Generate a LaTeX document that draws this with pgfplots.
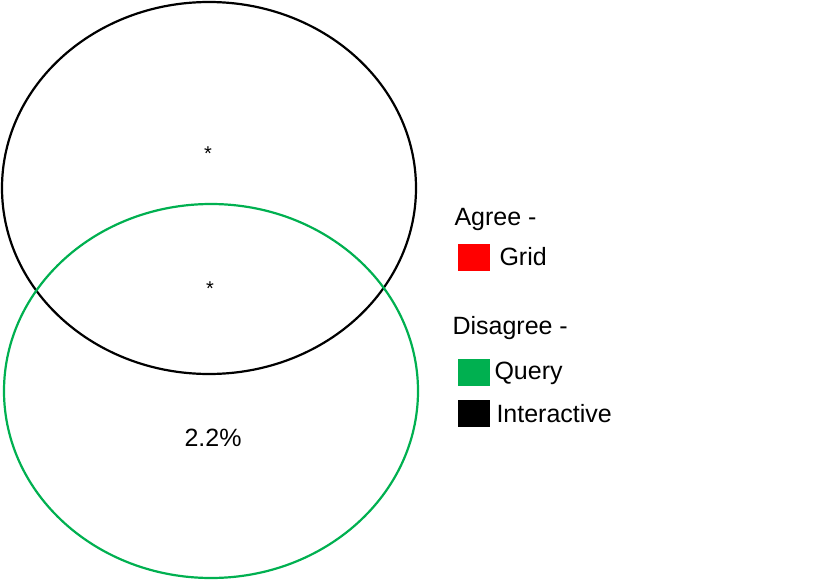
\documentclass[border=0pt]{standalone}
\usepackage{pgfplots}
\pgfplotsset{compat=1.18}
\usepackage{fontspec}
\setmainfont{Liberation Sans}
\definecolor{vgreen}{RGB}{0,176,80}
\begin{document}
\begin{tikzpicture}
\begin{axis}[width=816pt,height=583pt,scale only axis,xmin=0,xmax=816,ymin=0,ymax=583,y dir=reverse,
  axis lines=none,clip=false]
\addplot[draw=none,forget plot] coordinates {(0,0) (816,583)};
\draw[black,line width=2.2pt] (axis cs:209,188) ellipse [x radius=207, y radius=186];
\draw[vgreen,line width=2.2pt] (axis cs:211,391) ellipse [x radius=207, y radius=187];
\node[font=\fontsize{20}{24}\selectfont] at (axis cs:208,154) {*};
\node[font=\fontsize{20}{24}\selectfont] at (axis cs:210,289) {*};
\node[font=\fontsize{25}{30}\selectfont] at (axis cs:213,438) {2.2\%};
\node[anchor=west,font=\fontsize{25}{30}\selectfont] at (axis cs:451,219) {Agree -};
\fill[red] (axis cs:458,244) rectangle (axis cs:490,271);
\node[anchor=west,font=\fontsize{25}{30}\selectfont] at (axis cs:496,257) {Grid};
\node[anchor=west,font=\fontsize{25}{30}\selectfont] at (axis cs:449,328) {Disagree -};
\fill[vgreen] (axis cs:458,359) rectangle (axis cs:490,386);
\node[anchor=west,font=\fontsize{25}{30}\selectfont] at (axis cs:491,373) {Query};
\fill[black] (axis cs:458,400) rectangle (axis cs:490,427);
\node[anchor=west,font=\fontsize{25}{30}\selectfont] at (axis cs:493,414) {Interactive};
\end{axis}
\end{tikzpicture}
\end{document}
